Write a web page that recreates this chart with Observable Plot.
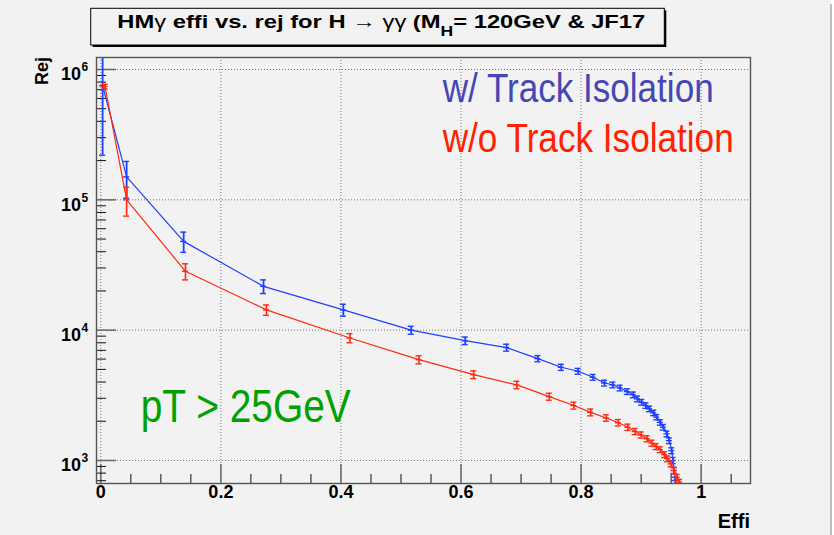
<!DOCTYPE html>
<html><head><meta charset="utf-8">
<script src="https://cdn.jsdelivr.net/npm/d3@7"></script>
<script src="https://cdn.jsdelivr.net/npm/@observablehq/plot@0.6"></script>
<style>html,body{margin:0;padding:0;background:#fff;} svg{display:block;}</style>
</head><body><div id="chart"></div>
<script>
// ---- data: w/ Track Isolation (blue)
const effiW = [0.003, 0.043, 0.138, 0.271, 0.404, 0.517, 0.607, 0.676, 0.728, 0.767, 0.795, 0.820, 0.839, 0.853, 0.865, 0.877, 0.887, 0.894, 0.901, 0.908, 0.914, 0.921, 0.926, 0.932, 0.937, 0.943, 0.947, 0.951, 0.953, 0.955, 0.957];
const rejW  = [7.5e5, 1.5e5, 4.8e4, 2.17e4, 1.43e4, 1.0e4, 8.3e3, 7.35e3, 6.05e3, 5.19e3, 4.84e3, 4.35e3, 3.93e3, 3.80e3, 3.60e3, 3.38e3, 3.19e3, 2.97e3, 2.80e3, 2.64e3, 2.49e3, 2.32e3, 2.15e3, 1.96e3, 1.80e3, 1.60e3, 1.42e3, 1.19e3, 1.0e3, 838, 702];
const errW  = [5.3e5, 4.7e4, 8.5e3, 2.6e3, 1.5e3, 700, 550, 450, 330, 280, 250, 220, 200, 190, 180, 170, 160, 150, 140, 130, 120, 110, 100, 95, 88, 80, 72, 62, 55, 48, 42];
// ---- data: w/o Track Isolation (red)
const effiO = [0.007, 0.043, 0.141, 0.276, 0.415, 0.530, 0.621, 0.693, 0.747, 0.788, 0.816, 0.842, 0.862, 0.878, 0.890, 0.900, 0.910, 0.918, 0.925, 0.932, 0.939, 0.944, 0.950, 0.955, 0.960, 0.964];
const rejO  = [7.4e5, 1.0e5, 2.83e4, 1.43e4, 8.7e3, 5.94e3, 4.56e3, 3.80e3, 3.09e3, 2.64e3, 2.34e3, 2.12e3, 1.95e3, 1.80e3, 1.67e3, 1.57e3, 1.47e3, 1.36e3, 1.28e3, 1.21e3, 1.11e3, 1.03e3, 942, 838, 745, 682];
const errO  = [3.0e4, 2.5e4, 4.0e3, 1.3e3, 700, 420, 310, 250, 190, 160, 140, 120, 110, 100, 92, 85, 78, 72, 67, 62, 57, 52, 48, 42, 38, 34];
const xErr = 0.005;

// ---- ticks / labels
const xMajor = [0, 0.2, 0.4, 0.6, 0.8, 1.0];
const xMajorLabels = ["0", "0.2", "0.4", "0.6", "0.8", "1"];
const xMinor = [0.05, 0.1, 0.15, 0.25, 0.3, 0.35, 0.45, 0.5, 0.55, 0.65, 0.7, 0.75, 0.85, 0.9, 0.95, 1.05];
const yMajor = [1e3, 1e4, 1e5, 1e6];
const yExp = ["3", "4", "5", "6"];
const yMinor = [700, 800, 900, 2e3, 3e3, 4e3, 5e3, 6e3, 7e3, 8e3, 9e3, 2e4, 3e4, 4e4, 5e4, 6e4, 7e4, 8e4, 9e4, 2e5, 3e5, 4e5, 5e5, 6e5, 7e5, 8e5, 9e5];
const titleParts = ["HM", "γ", " effi vs. rej for H ", "→", " ", "γγ", " (M", "H", "= 120GeV & JF17"];
const labelW = "w/ Track Isolation";
const labelO = "w/o Track Isolation";
const labelCut = "pT > 25GeV";
const xTitle = "Effi";
const yTitle = "Rej";

// ---- layout
const W = 834, H = 535;
const mL = 96, mR = 84, mT = 57, mB = 52;
const iW = W - mL - mR, iH = H - mT - mB;
const font = "'Liberation Sans', Arial, Helvetica, sans-serif";
const cW = "#1f3fff", cO = "#ff2a10";

const mk = (xs, ys, es) => xs.map((x, i) => ({x, y: ys[i], e: es[i]}));
const dW = mk(effiW, rejW, errW), dO = mk(effiO, rejO, errO);

function series(data, color, ew) {
  const cap = {x1: d => d.x - xErr, x2: d => d.x + xErr, stroke: color, strokeWidth: 1.4, clip: true};
  return [
    Plot.line(data, {x: "x", y: "y", stroke: color, strokeWidth: 1.2, clip: true}),
    Plot.ruleX(data, {x: "x", y1: d => d.y - d.e, y2: d => d.y + d.e, stroke: color, strokeWidth: ew, clip: true}),
    Plot.ruleY(data, {y: d => d.y + d.e, ...cap}),
    Plot.ruleY(data, {y: d => d.y - d.e, ...cap}),
    Plot.ruleY(data, {y: "y", ...cap})
  ];
}

const plot = Plot.plot({
  width: W, height: H,
  marginLeft: mL, marginRight: mR, marginTop: mT, marginBottom: mB,
  style: {background: "transparent", fontFamily: font, overflow: "visible"},
  x: {domain: [-0.0072, 1.0822], axis: null},
  y: {type: "log", domain: [666, 1.236e6], axis: null},
  marks: [
    Plot.ruleX(xMajor, {x: d => d, stroke: "#777", strokeDasharray: "1,2"}),
    Plot.ruleY(yMajor, {y: d => d, stroke: "#777", strokeDasharray: "1,2"}),
    Plot.tickX(xMinor, {x: d => d, insetTop: iH - 9, stroke: "#111"}),
    Plot.tickX(xMajor, {x: d => d, insetTop: iH - 19, stroke: "#666", strokeWidth: 1.5}),
    Plot.tickY(yMinor, {y: d => d, insetRight: iW - 10, stroke: "#111"}),
    Plot.tickY(yMajor, {y: d => d, insetRight: iW - 20, stroke: "#666", strokeWidth: 1.5}),
    ...series(dW, cW, 1.8),
    ...series(dO, cO, 1.6),
    Plot.frame({stroke: "#555", strokeWidth: 1.4}),
    Plot.text(xMajor, {x: d => d, frameAnchor: "bottom", dy: 14, text: (d, i) => xMajorLabels[i], fontSize: 18, fontWeight: "bold", fill: "#000"}),
    Plot.text(yMajor, {y: d => d, frameAnchor: "left", dx: -15.5, dy: 5, text: () => "10", textAnchor: "end", fontSize: 18, fontWeight: "bold", fill: "#000"}),
    Plot.text(yMajor, {y: d => d, frameAnchor: "left", dx: -15, dy: -2, text: (d, i) => yExp[i], textAnchor: "start", fontSize: 12, fontWeight: "bold", fill: "#000"})
  ]
});

const svg = d3.select(plot);
svg.insert("rect", ":first-child").attr("x", 0).attr("y", 0).attr("width", 831).attr("height", H).attr("fill", "#f2f2f2");
svg.append("line").attr("x1", 831).attr("x2", 831).attr("y1", 4).attr("y2", H).attr("stroke", "#aaa").attr("stroke-width", 1.5);

// title box
svg.append("rect").attr("x", 92.7).attr("y", 10.3).attr("width", 573.6).attr("height", 36.7).attr("fill", "#000");
svg.append("rect").attr("x", 90.7).attr("y", 8.3).attr("width", 573.6).attr("height", 36.7).attr("fill", "#f2f2f2").attr("stroke", "#000").attr("stroke-width", 1);
const t = svg.append("text").attr("x", 117.3).attr("y", 28.3).attr("text-anchor", "start").attr("font-family", font).attr("font-size", 19)
  .attr("font-weight", "bold").attr("textLength", 528).attr("lengthAdjust", "spacingAndGlyphs");
t.append("tspan").text(titleParts[0]);
t.append("tspan").attr("font-weight", "normal").text(titleParts[1]);
t.append("tspan").text(titleParts[2]);
t.append("tspan").attr("font-weight", "normal").text(titleParts[3]);
t.append("tspan").text(titleParts[4]);
t.append("tspan").attr("font-weight", "normal").text(titleParts[5]);
t.append("tspan").text(titleParts[6]);
t.append("tspan").attr("font-size", 14).attr("dy", 8).text(titleParts[7]);
t.append("tspan").attr("dy", -8).text(titleParts[8]);

// annotations
function ann(str, x, y, size, len, color) {
  svg.append("text").attr("x", x).attr("y", y).attr("text-anchor", "start").attr("font-family", font).attr("font-size", size)
    .attr("fill", color).attr("textLength", len).attr("lengthAdjust", "spacingAndGlyphs").text(str);
}
ann(labelW, 442.7, 101.7, 40, 271, "#4646b4");
ann(labelO, 442.7, 151.7, 41, 291, "#ff2200");
ann(labelCut, 140.7, 421.7, 47, 210, "#00a000");

// axis titles
svg.append("text").attr("x", 750).attr("y", 528).attr("text-anchor", "end").attr("font-family", font)
  .attr("font-size", 20).attr("font-weight", "bold").text(xTitle);
svg.append("text").attr("transform", "translate(48,57) rotate(-90)").attr("text-anchor", "end").attr("font-family", font)
  .attr("font-size", 18).attr("font-weight", "bold").text(yTitle);

document.getElementById("chart").appendChild(plot);
</script>
</body></html>
